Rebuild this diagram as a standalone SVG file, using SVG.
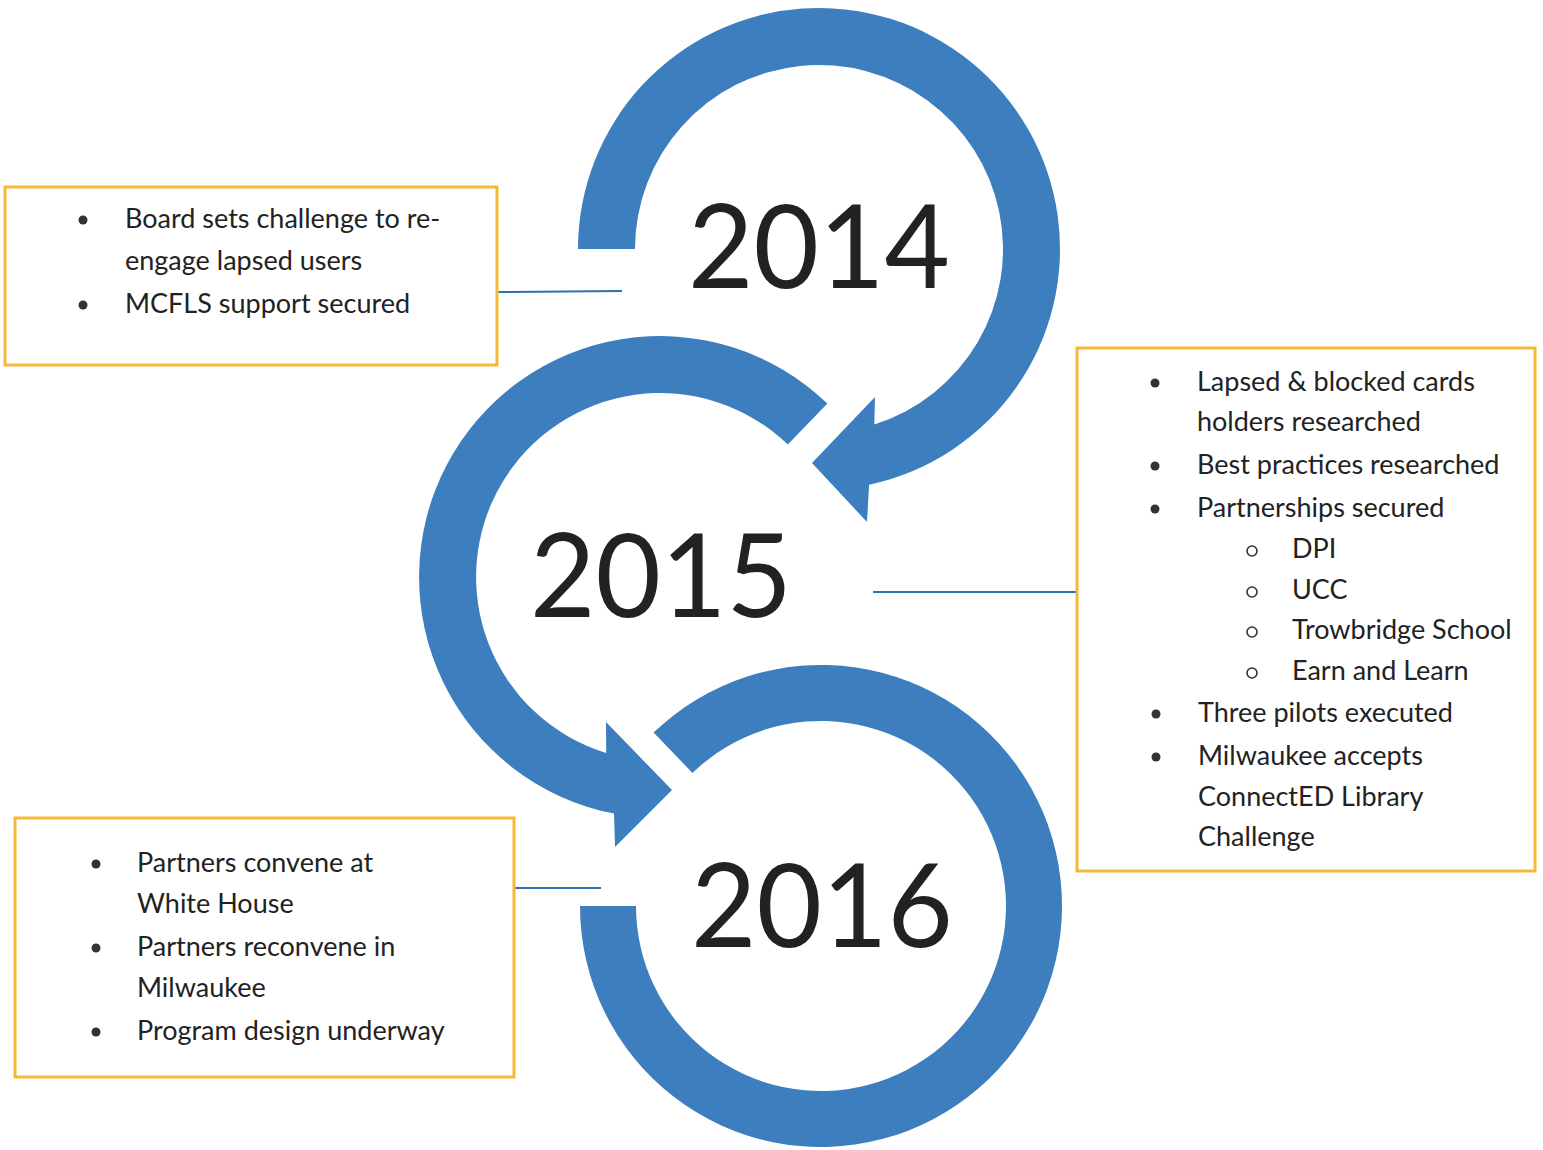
<svg xmlns="http://www.w3.org/2000/svg" width="1543" height="1150" viewBox="0 0 1543 1150">
<style>
.ring{fill:#3D7EBF}
.year{font-family:Lato,"Open Sans","Liberation Sans",sans-serif;font-size:117px;fill:#222;text-anchor:middle}
.box{fill:#fff;stroke:#F5B939;stroke-width:3}
.t{font-family:Lato,"Open Sans","Liberation Sans",sans-serif;font-size:27px;fill:#222}
.dot{fill:#333}
.sub{fill:none;stroke:#333;stroke-width:1.6}
.conn{stroke:#2F6FB3;stroke-width:2;fill:none}
</style>
<rect width="1543" height="1150" fill="#fff"/>
<g id="connectors">
<line class="conn" x1="497" y1="292" x2="622" y2="291"/>
<line class="conn" x1="873" y1="592" x2="1078" y2="592"/>
<line class="conn" x1="514" y1="888" x2="601" y2="888"/>
</g>
<g id="node-2014">
<path class="ring" d="M578 249 A241 241 0 1 1 869.1 484.7 L867 522 L812 463 L875 397 L874.3 424.5 A184 184 0 1 0 635 249 Z"/>
<text class="year" x="819" y="288" textLength="262" lengthAdjust="spacingAndGlyphs">2014</text>
</g>
<g id="node-2015">
<path class="ring" d="M827.4 403.6 A241 241 0 1 0 614 813.6 L615 847 L672 790 L606 722 L606.2 753 A184 184 0 1 1 787.8 444.6 Z"/>
<text class="year" x="661" y="617" textLength="262" lengthAdjust="spacingAndGlyphs">2015</text>
</g>
<g id="node-2016">
<path class="ring" d="M580 906 A241 241 0 1 0 653.6 732.6 L692.5 772.9 A185 185 0 1 1 636 906 Z"/>
<text class="year" x="822" y="947" textLength="262" lengthAdjust="spacingAndGlyphs">2016</text>
</g>
<g id="box-2014">
<rect class="box" x="5" y="187" width="492" height="178"/>
<circle class="dot" cx="83" cy="220" r="4.5"/>
<text class="t" x="125" y="228">Board sets challenge to re-</text>
<text class="t" x="125" y="270">engage lapsed users</text>
<circle class="dot" cx="83" cy="305" r="4.5"/>
<text class="t" x="125" y="313">MCFLS support secured</text>
</g>
<g id="box-2015">
<rect class="box" x="1077" y="348" width="458" height="523"/>
<circle class="dot" cx="1155" cy="383" r="4.5"/>
<text class="t" x="1197" y="391">Lapsed &amp; blocked cards</text>
<text class="t" x="1197" y="431">holders researched</text>
<circle class="dot" cx="1155" cy="466" r="4.5"/>
<text class="t" x="1197" y="474">Best practices researched</text>
<circle class="dot" cx="1155" cy="509" r="4.5"/>
<text class="t" x="1197" y="517">Partnerships secured</text>
<circle class="sub" cx="1252" cy="551" r="5"/>
<text class="t" x="1292" y="558">DPI</text>
<circle class="sub" cx="1252" cy="592" r="5"/>
<text class="t" x="1292" y="599">UCC</text>
<circle class="sub" cx="1252" cy="632" r="5"/>
<text class="t" x="1292" y="639">Trowbridge School</text>
<circle class="sub" cx="1252" cy="673" r="5"/>
<text class="t" x="1292" y="680">Earn and Learn</text>
<circle class="dot" cx="1156" cy="714" r="4.5"/>
<text class="t" x="1198" y="722">Three pilots executed</text>
<circle class="dot" cx="1156" cy="757" r="4.5"/>
<text class="t" x="1198" y="765">Milwaukee accepts</text>
<text class="t" x="1198" y="806">ConnectED Library</text>
<text class="t" x="1198" y="846">Challenge</text>
</g>
<g id="box-2016">
<rect class="box" x="15" y="818" width="499" height="259"/>
<circle class="dot" cx="96" cy="864" r="4.5"/>
<text class="t" x="137" y="872">Partners convene at</text>
<text class="t" x="137" y="913">White House</text>
<circle class="dot" cx="96" cy="948" r="4.5"/>
<text class="t" x="137" y="956">Partners reconvene in</text>
<text class="t" x="137" y="997">Milwaukee</text>
<circle class="dot" cx="96" cy="1032" r="4.5"/>
<text class="t" x="137" y="1040">Program design underway</text>
</g>
</svg>
